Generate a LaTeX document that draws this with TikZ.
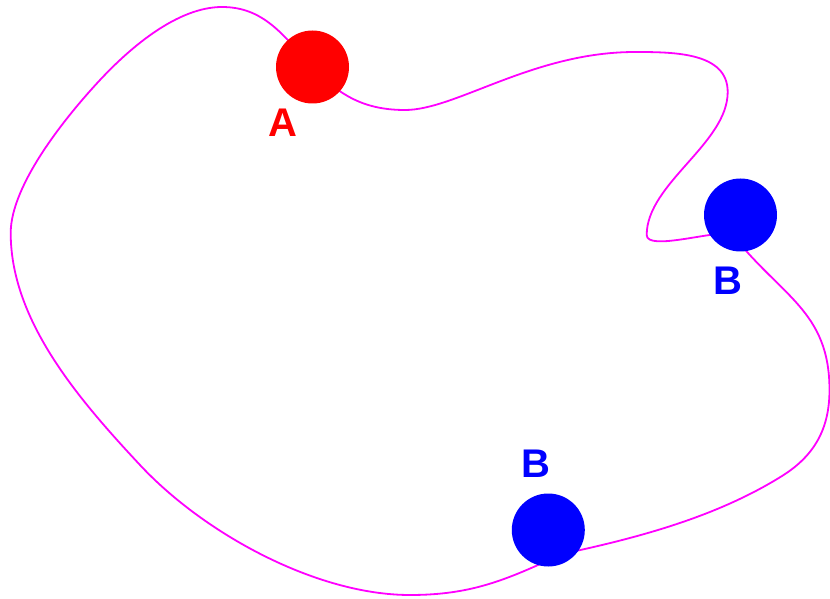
\documentclass[tikz,border=0pt]{standalone}
\usepackage{fontspec}
\setmainfont{Liberation Sans}
\definecolor{loopmagenta}{RGB}{255,0,255}
\tikzset{
 loop/.style={draw=loopmagenta,line width=1.8pt},
 ball/.style={circle,minimum size=73pt,inner sep=0},
 redball/.style={ball,fill=red},
 blueball/.style={ball,fill=blue},
 tag/.style={font=\fontsize{40}{40}\selectfont\bfseries,inner sep=0}
}
\begin{document}
\begin{tikzpicture}[x=1pt,y=1pt]
\path[use as bounding box] (0,0) rectangle (830,598);
% ball centres and the points the curve passes under them
\coordinate (a) at (312.5,531);
\coordinate (b1) at (740.5,383);
\coordinate (b2) at (548.3,68);
\coordinate (viaB1) at (732,364);
\coordinate (viaB2) at (562,44);
% turning points of the curve
\coordinate (dip) at (405,488);
\coordinate (hump) at (635,546);
\coordinate (east) at (727.7,506);
\coordinate (tip) at (646.7,363);
\coordinate (lobe) at (829.5,208);
\coordinate (knee) at (782,122);
\coordinate (bottom) at (410,3);
\coordinate (sw) at (140,133);
\coordinate (west) at (10.7,365);
\coordinate (nw) at (100,518);
\coordinate (top) at (222,591);
\draw[loop] (a) to[out=-47,in=180] (dip)
 to[out=0,in=180,out looseness=.55,in looseness=1.1] (hump)
 to[out=0,in=90] (east)
 to[out=-90,in=90,looseness=.8] (tip)
 to[out=-90,in=165,looseness=.5] (viaB1)
 to[out=-52,in=90,looseness=1.1] (lobe)
 to[out=-90,in=32] (knee)
 to[out=212,in=12,looseness=.85] (viaB2)
 to[out=205,in=0] (bottom)
 to[out=180,in=-47,looseness=.8] (sw)
 to[out=133,in=-90,looseness=.85] (west)
 to[out=90,in=-133,looseness=.7] (nw)
 to[out=47,in=180,looseness=.8] (top)
 to[out=0,in=133] (a);
\node[redball] (ballA) at (a) {};
\node[blueball] (ballB1) at (b1) {};
\node[blueball] (ballB2) at (b2) {};
\node[tag,text=red] (tagA) at (282.5,475.5) {A};
\node[tag,text=blue] (tagB1) at (728,317) {B};
\node[tag,text=blue] (tagB2) at (536,134) {B};
\end{tikzpicture}
\end{document}
